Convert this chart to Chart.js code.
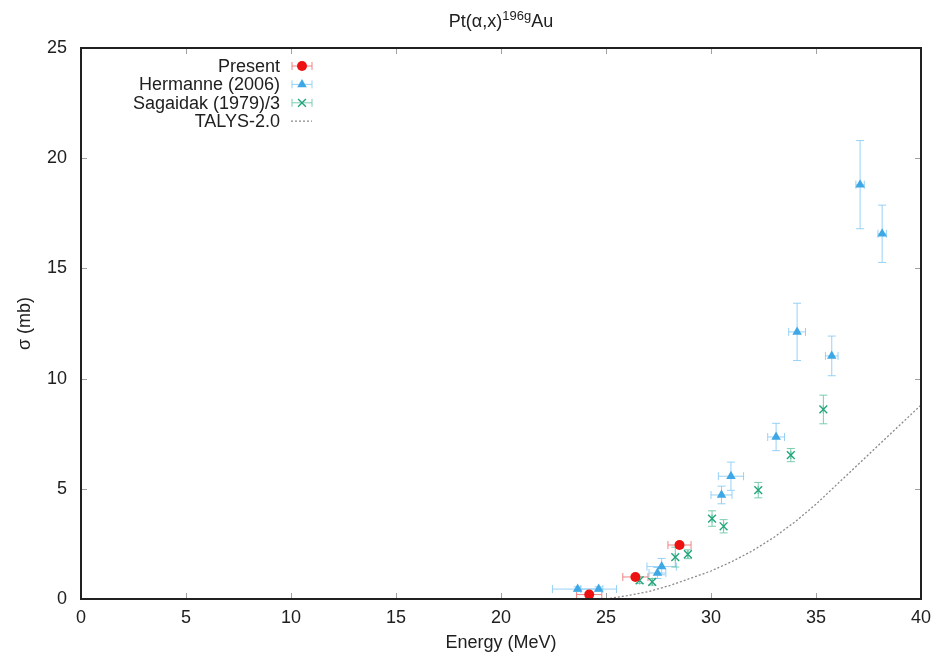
<!DOCTYPE html>
<html>
<head>
<meta charset="utf-8">
<script src="https://cdn.jsdelivr.net/npm/chart.js@4.4.1/dist/chart.umd.min.js"></script>
<style>
  html, body { margin: 0; padding: 0; background: #fff; }
  #wrap { width: 936px; height: 659px; }
</style>
</head>
<body>
<div id="wrap"><canvas id="chart" width="936" height="659"></canvas></div>
<script>
// Present work
var presentEnergy    = [24.2, 26.4, 28.5];
var presentEnergyErr = [0.6, 0.6, 0.55];
var presentSigma     = [0.2, 1.0, 2.45];
var presentSigmaErr  = [0.05, 0.08, 0.12];

// Hermanne (2006)
var hermanneEnergy    = [23.65, 24.65, 27.45, 27.65, 30.5, 30.95, 33.1, 34.1, 35.75, 37.1, 38.15];
var hermanneEnergyErr = [1.2, 0.85, 0.4, 0.7, 0.5, 0.6, 0.4, 0.4, 0.3, 0.2, 0.2];
var hermanneSigma     = [0.45, 0.45, 1.18, 1.47, 4.72, 5.57, 7.35, 12.12, 11.03, 18.8, 16.57];
var hermanneSigmaErr  = [0.1, 0.1, 0.25, 0.37, 0.4, 0.64, 0.62, 1.3, 0.9, 2.0, 1.3];

// Sagaidak (1979), values divided by 3
var sagaidakEnergy   = [26.6, 27.2, 28.3, 28.9, 30.05, 30.6, 32.25, 33.8, 35.35];
var sagaidakSigma    = [0.85, 0.78, 1.9, 2.03, 3.65, 3.3, 4.94, 6.53, 8.6];
var sagaidakSigmaErr = [0.15, 0.15, 0.45, 0.2, 0.35, 0.3, 0.35, 0.3, 0.65];

// TALYS-2.0 calculation
var talysEnergy = [25, 26, 27, 28, 29, 30, 31, 32, 33, 34, 35, 36, 37, 38, 39, 40];
var talysSigma  = [0.0, 0.15, 0.33, 0.6, 0.93, 1.27, 1.7, 2.2, 2.8, 3.5, 4.3, 5.2, 6.1, 7.0, 7.9, 8.8];

var xTicks = [0, 5, 10, 15, 20, 25, 30, 35, 40];
var yTicks = [0, 5, 10, 15, 20, 25];

var FONT = "'Liberation Sans', Arial, sans-serif";

function points(xs, ys, xe, ye) {
    return xs.map(function(x, i) {
        return { x: x, y: ys[i], xErr: xe ? xe[i] : 0, yErr: ye ? ye[i] : 0 };
    });
}

// error bars with small caps, drawn under the markers
var errorBars = {
    id: 'errorBars',
    beforeDatasetsDraw: function(chart) {
        var ctx = chart.ctx, sx = chart.scales.x, sy = chart.scales.y;
        var a = chart.chartArea, cap = 4;
        ctx.save();
        ctx.beginPath();
        ctx.rect(a.left, a.top, a.right - a.left, a.bottom - a.top);
        ctx.clip();
        chart.data.datasets.forEach(function(ds) {
            if (!ds.errorColor) return;
            ctx.strokeStyle = ds.errorColor;
            ctx.lineWidth = 1;
            ds.data.forEach(function(p) {
                var px = sx.getPixelForValue(p.x), py = sy.getPixelForValue(p.y);
                var x0 = sx.getPixelForValue(p.x - p.xErr), x1 = sx.getPixelForValue(p.x + p.xErr);
                var y0 = sy.getPixelForValue(p.y - p.yErr), y1 = sy.getPixelForValue(p.y + p.yErr);
                ctx.beginPath();
                ctx.moveTo(x0, py); ctx.lineTo(x1, py);
                ctx.moveTo(x0, py - cap); ctx.lineTo(x0, py + cap);
                ctx.moveTo(x1, py - cap); ctx.lineTo(x1, py + cap);
                ctx.moveTo(px, y0); ctx.lineTo(px, y1);
                ctx.moveTo(px - cap, y0); ctx.lineTo(px + cap, y0);
                ctx.moveTo(px - cap, y1); ctx.lineTo(px + cap, y1);
                ctx.stroke();
            });
        });
        ctx.restore();
    }
};

// box around the plot with inward ticks on every side
var frameTicks = {
    id: 'frameTicks',
    afterDraw: function(chart) {
        var ctx = chart.ctx, a = chart.chartArea;
        var sx = chart.scales.x, sy = chart.scales.y, len = 6;
        ctx.save();
        ctx.strokeStyle = '#a0a0a0';
        ctx.lineWidth = 1;
        ctx.beginPath();
        sx.ticks.forEach(function(t) {
            var px = Math.round(sx.getPixelForValue(t.value)) + 0.5;
            ctx.moveTo(px, a.bottom); ctx.lineTo(px, a.bottom - len);
            ctx.moveTo(px, a.top); ctx.lineTo(px, a.top + len);
        });
        sy.ticks.forEach(function(t) {
            var py = Math.round(sy.getPixelForValue(t.value)) + 0.5;
            ctx.moveTo(a.left, py); ctx.lineTo(a.left + len, py);
            ctx.moveTo(a.right, py); ctx.lineTo(a.right - len, py);
        });
        ctx.stroke();
        ctx.strokeStyle = '#202020';
        ctx.lineWidth = 2;
        ctx.strokeRect(a.left, a.top, a.right - a.left, a.bottom - a.top);
        ctx.restore();
    }
};

// title with the superscript isomer label
var plotTitle = {
    id: 'plotTitle',
    afterDraw: function(chart) {
        var ctx = chart.ctx, a = chart.chartArea;
        var parts = [['Pt(\u03b1,x)', 18, 0], ['196g', 13, -7], ['Au', 18, 0]];
        ctx.save();
        ctx.fillStyle = '#202020';
        ctx.textBaseline = 'alphabetic';
        ctx.textAlign = 'left';
        var total = 0;
        parts.forEach(function(p) { ctx.font = p[1] + 'px ' + FONT; p.push(ctx.measureText(p[0]).width); total += p[3]; });
        var x = (a.left + a.right) / 2 - total / 2;
        parts.forEach(function(p) {
            ctx.font = p[1] + 'px ' + FONT;
            ctx.fillText(p[0], x, 27 + p[2]);
            x += p[3];
        });
        ctx.restore();
    }
};

// key in the upper left: label, then a sample marker with its error bar
var keyBox = {
    id: 'keyBox',
    afterDraw: function(chart) {
        var ctx = chart.ctx;
        var textRight = 280, sx0 = 292, sx1 = 312, top = 66, step = 18.4;
        ctx.save();
        ctx.font = '18px ' + FONT;
        ctx.textAlign = 'right';
        ctx.textBaseline = 'middle';
        chart.data.datasets.forEach(function(ds, i) {
            var y = top + i * step;
            ctx.fillStyle = '#202020';
            ctx.fillText(ds.label, textRight, y + 1);
            if (ds.errorColor) {
                ctx.strokeStyle = ds.errorColor;
                ctx.lineWidth = 1;
                ctx.beginPath();
                ctx.moveTo(sx0, y); ctx.lineTo(sx1, y);
                ctx.moveTo(sx0, y - 4); ctx.lineTo(sx0, y + 4);
                ctx.moveTo(sx1, y - 4); ctx.lineTo(sx1, y + 4);
                ctx.stroke();
                ctx.fillStyle = ds.backgroundColor;
                ctx.strokeStyle = ds.borderColor;
                ctx.lineWidth = ds.borderWidth;
                ctx.beginPath();
                Chart.helpers.drawPoint(ctx, {
                    pointStyle: ds.pointStyle, radius: ds.pointRadius, borderWidth: ds.borderWidth
                }, (sx0 + sx1) / 2, y);
            } else {
                ctx.strokeStyle = ds.borderColor;
                ctx.lineWidth = ds.borderWidth;
                ctx.setLineDash(ds.borderDash);
                ctx.beginPath();
                ctx.moveTo(sx0 - 1, y); ctx.lineTo(sx1, y);
                ctx.stroke();
                ctx.setLineDash([]);
            }
        });
        ctx.restore();
    }
};

var ctx = document.getElementById('chart').getContext('2d');
var chart = new Chart(ctx, {
    type: 'scatter',
    data: {
        datasets: [
            {
                label: 'Present',
                data: points(presentEnergy, presentSigma, presentEnergyErr, presentSigmaErr),
                pointStyle: 'circle',
                pointRadius: 5,
                borderWidth: 0,
                backgroundColor: '#ee1111',
                borderColor: '#ee1111',
                errorColor: 'rgba(240,110,110,0.85)',
                order: 1
            },
            {
                label: 'Hermanne (2006)',
                data: points(hermanneEnergy, hermanneSigma, hermanneEnergyErr, hermanneSigmaErr),
                pointStyle: 'triangle',
                pointRadius: 5.5,
                borderWidth: 0,
                backgroundColor: '#3ea8e6',
                borderColor: '#3ea8e6',
                errorColor: 'rgba(140,205,245,0.9)',
                order: 2
            },
            {
                label: 'Sagaidak (1979)/3',
                data: points(sagaidakEnergy, sagaidakSigma, null, sagaidakSigmaErr),
                pointStyle: 'crossRot',
                pointRadius: 5.5,
                borderWidth: 1.4,
                backgroundColor: '#22a57c',
                borderColor: '#22a57c',
                errorColor: 'rgba(110,200,165,0.9)',
                order: 3
            },
            {
                label: 'TALYS-2.0',
                type: 'line',
                data: points(talysEnergy, talysSigma),
                showLine: true,
                pointRadius: 0,
                borderColor: '#8a8a8a',
                borderWidth: 1.3,
                borderDash: [2, 2],
                tension: 0,
                fill: false,
                order: 4
            }
        ]
    },
    options: {
        responsive: false,
        animation: false,
        layout: { padding: { left: 0, top: 48, right: 15, bottom: 0 } },
        plugins: {
            legend: { display: false },
            tooltip: { enabled: false },
            title: { display: false }
        },
        scales: {
            x: {
                type: 'linear',
                min: 0,
                max: 40,
                afterBuildTicks: function(s) { s.ticks = xTicks.map(function(v) { return { value: v }; }); },
                // fixed box: no extra room reserved for the end labels
                afterFit: function(s) { s.height = 60; s.paddingLeft = 0; s.paddingRight = 0; },
                grid: { display: false, drawTicks: false },
                border: { display: false },
                ticks: { color: '#202020', font: { family: FONT, size: 18 }, padding: 8 },
                title: {
                    display: true,
                    text: 'Energy (MeV)',
                    color: '#202020',
                    font: { family: FONT, size: 18 },
                    padding: { top: 0, bottom: 5 }
                }
            },
            y: {
                type: 'linear',
                min: 0,
                max: 25,
                afterBuildTicks: function(s) { s.ticks = yTicks.map(function(v) { return { value: v }; }); },
                afterFit: function(s) { s.width = 81; s.paddingTop = 0; s.paddingBottom = 0; },
                grid: { display: false, drawTicks: false },
                border: { display: false },
                ticks: { color: '#202020', font: { family: FONT, size: 18 }, padding: 14 },
                title: {
                    display: true,
                    text: '\u03c3 (mb)',
                    color: '#202020',
                    font: { family: FONT, size: 18 },
                    padding: { top: 14, bottom: 0 }
                }
            }
        }
    },
    plugins: [errorBars, frameTicks, plotTitle, keyBox]
});
</script>
</body>
</html>
